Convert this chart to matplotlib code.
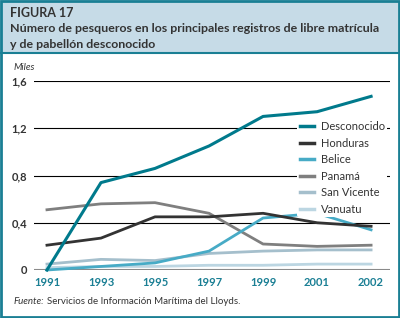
import matplotlib.pyplot as plt
import matplotlib.patches as mpatches
from matplotlib.lines import Line2D

years = ["1991", "1993", "1995", "1997", "1999", "2001", "2002"]
desconocido = [0.0, 0.74, 0.86, 1.05, 1.30, 1.34, 1.47]
honduras = [0.21, 0.27, 0.45, 0.45, 0.48, 0.40, 0.37]
belice = [0.0, 0.03, 0.06, 0.16, 0.44, 0.48, 0.34]
panama = [0.51, 0.56, 0.57, 0.48, 0.22, 0.20, 0.21]
san_vicente = [0.05, 0.09, 0.08, 0.14, 0.16, 0.17, 0.17]
vanuatu = [0.02, 0.03, 0.03, 0.04, 0.04, 0.05, 0.05]
yticks = [0, 0.4, 0.8, 1.2, 1.6]
ytick_labels = ["0", "0,4", "0,8", "1,2", "1,6"]

series = [
    ("Desconocido", desconocido, "#007a8c", 2.2),
    ("Honduras", honduras, "#333333", 2.0),
    ("Belice", belice, "#47abc6", 2.0),
    ("Panamá", panama, "#7f7f7f", 2.0),
    ("San Vicente", san_vicente, "#a5bfcc", 2.0),
    ("Vanuatu", vanuatu, "#bcd6e2", 2.0),
]

plt.rcParams['font.family'] = ['Lato', 'DejaVu Sans']
teal = "#1a7f94"
dark = "#333333"

fig = plt.figure(figsize=(4, 3.18), dpi=100)

# title band and border
fig.patches.append(mpatches.Rectangle((0, 1 - 53 / 318), 1, 53 / 318, transform=fig.transFigure,
                                      facecolor="#c6dbe7", edgecolor="none", zorder=0))
fig.add_artist(Line2D([0, 1], [1 - 53 / 318] * 2, color=teal, lw=1.5))
fig.patches.append(mpatches.Rectangle((0.002, 0.003), 0.996, 0.994, transform=fig.transFigure,
                                      facecolor="none", edgecolor=teal, lw=2.0, zorder=5))

fig.text(10 / 400, 1 - 13 / 318, "FIGURA 17", fontsize=9, fontweight="bold", color=dark, va="center")
fig.text(10 / 400, 1 - 29 / 318, "Número de pesqueros en los principales registros de libre matrícula",
         fontsize=8.9, fontweight="bold", color=dark, va="center")
fig.text(10 / 400, 1 - 44 / 318, "y de pabellón desconocido", fontsize=8.9, fontweight="bold",
         color=dark, va="center")

ax = fig.add_axes([34 / 400, 48 / 318, 356 / 400, 189 / 318])
x = list(range(len(years)))

for y in yticks[1:]:
    ax.axhline(y, color="black", lw=0.8, zorder=1)
ax.axhline(0, color="#8a8a8a", lw=1.5, zorder=1)

for name, vals, color, lw in reversed(series):
    ax.plot(x, vals, color=color, lw=lw, label=name, zorder=3, clip_on=False)

ax.set_xlim(-0.24, 6.35)
ax.set_ylim(0, 1.6)
for s in ax.spines.values():
    s.set_visible(False)
ax.set_xticks(x)
ax.set_xticklabels(years, fontsize=8, fontweight="bold", color=teal)
ax.set_yticks(yticks)
ax.set_yticklabels(ytick_labels, fontsize=8, fontweight="bold", color=dark)
ax.tick_params(length=0, pad=5)

fig.text(14 / 400, 1 - 67 / 318, "Miles", fontsize=7, style="italic", color=dark, va="center")

handles = [Line2D([0], [0], color=c, lw=2.5) for _, _, c, _ in series]
labels = [n for n, _, _, _ in series]
leg = ax.legend(handles, labels, loc="upper left", bbox_to_anchor=(0.74, 0.80), frameon=True,
                fontsize=8, handlelength=1.3, handletextpad=0.6, labelspacing=0.5,
                borderaxespad=0, borderpad=0.2, facecolor="white", edgecolor="none", framealpha=1)
leg.set_zorder(4)
for t in leg.get_texts():
    t.set_color(dark)

fig.text(14 / 400, 1 - 302 / 318, "Fuente:", fontsize=7, style="italic", color=dark, va="center")
fig.text(47 / 400, 1 - 302 / 318, "Servicios de Información Marítima del Lloyds.", fontsize=7,
         color=dark, va="center")

fig.savefig("out.png", dpi=100)
